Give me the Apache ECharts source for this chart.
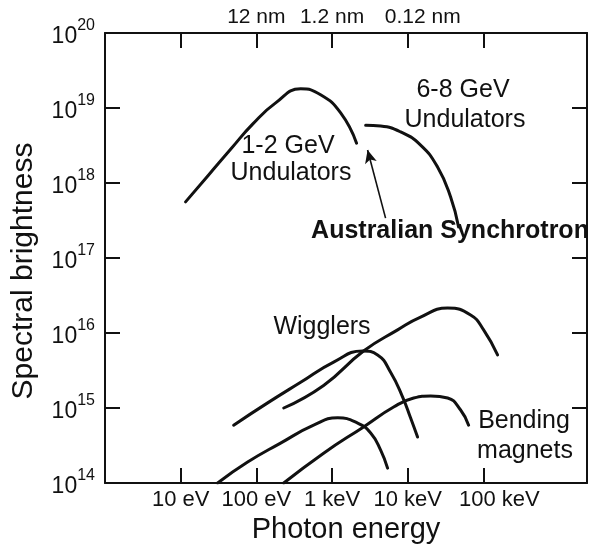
<!DOCTYPE html>
<html>
<head>
<meta charset="utf-8">
<script src="https://cdn.jsdelivr.net/npm/echarts@6/dist/echarts.min.js"></script>
<style>
  html, body { margin: 0; padding: 0; background: #fff; }
  #chart { width: 589px; height: 551px; }
</style>
</head>
<body>
<div id="chart"></div>
<script>
// Photon energy (eV) and spectral brightness for each source curve
const und12Energy = [11.6, 23.4, 47.2, 89.3, 180, 385, 706, 1300, 2110];
const und12Bright = [5.6e17, 1.28e18, 2.93e18, 6.1e18, 1.17e19, 1.8e19, 1.5e19, 8.6e18, 3.4e18];

const und68Energy = [2780, 4390, 8050, 14800, 24800, 36900, 47000];
const und68Bright = [5.9e18, 5.75e18, 4.8e18, 3.2e18, 1.63e18, 6.5e17, 2.6e17];

const wigHighEnergy = [230, 774, 2610, 7360, 14800, 33700, 67800, 100700, 154000];
const wigHighBright = [1.0e15, 2.0e15, 5.75e15, 1.1e16, 1.63e16, 2.15e16, 1.74e16, 1.1e16, 5.1e15];

const wigLowEnergy = [50.1, 141, 385, 1050, 2540, 4000, 5940, 8570, 10900, 13500];
const wigLowBright = [5.9e14, 1.17e15, 2.2e15, 4.1e15, 5.75e15, 5.1e15, 3.0e15, 1.4e15, 7.4e14, 4.1e14];

const bendLowEnergy = [30.8, 76.7, 209, 571, 1190, 2180, 3240, 4390, 5420];
const bendLowBright = [1.0e14, 1.9e14, 3.4e14, 5.9e14, 7.4e14, 6.3e14, 4.65e14, 2.75e14, 1.58e14];

const bendHighEnergy = [230, 774, 2610, 6520, 12000, 20100, 33700, 50000, 63800];
const bendHighBright = [1.0e14, 2.5e14, 5.6e14, 1.03e15, 1.36e15, 1.45e15, 1.36e15, 9.4e14, 5.9e14];

// Arrow pointing at the Australian Synchrotron gap: [energy, brightness] tail and head
const arrowTail = [5100, 3.4e17];
const arrowHead = [2950, 2.75e18];

// Axis ticks and their labels
const xTickValues = [10, 100, 1000, 10000, 100000];
const xTickLabels = ['10 eV', '100 eV', '1 keV', '10 keV', '100 keV'];
const topTickValues = [100, 1000, 10000];
const topTickLabels = ['12 nm', '1.2 nm', '0.12 nm'];
const yTickValues = [1e14, 1e15, 1e16, 1e17, 1e18, 1e19, 1e20];
const yExponents = ['14', '15', '16', '17', '18', '19', '20'];

const FONT = '"Liberation Sans", Arial, Helvetica, sans-serif';
const INK = '#111';

function pairs(xs, ys) { return xs.map((x, i) => [x, ys[i]]); }

function curve(name, xs, ys) {
  return {
    name: name,
    type: 'line',
    data: pairs(xs, ys),
    smooth: 0.5,
    symbol: 'none',
    clip: true,
    silent: true,
    lineStyle: { color: INK, width: 3, cap: 'round' },
    z: 3
  };
}

function tickIndex(values, v) {
  return values.findIndex(t => Math.abs(Math.log10(v) - Math.log10(t)) < 1e-6);
}

// The last label of each energy scale sits a little to the right of its tick
function shiftedLast(values, labels) {
  return function (v) {
    const i = tickIndex(values, v);
    if (i < 0) return '';
    return (i === values.length - 1 ? '{w|' : '{n|') + labels[i] + '}';
  };
}

const chart = echarts.init(document.getElementById('chart'), null, { renderer: 'canvas' });

const axisLine = { show: true, lineStyle: { color: INK, width: 2 } };
const tickStyle = { color: INK, width: 2 };

const option = {
  backgroundColor: '#fff',
  animation: false,
  grid: { left: 105, right: 2, top: 33, bottom: 68, containLabel: false },
  xAxis: [
    {
      type: 'log', logBase: 10, min: 1, max: 2.34e6, position: 'bottom',
      axisLine: axisLine,
      axisTick: { show: true, inside: true, length: 15, lineStyle: tickStyle, customValues: xTickValues },
      axisLabel: {
        show: true, margin: 6, color: INK, fontFamily: FONT,
        customValues: xTickValues,
        formatter: shiftedLast(xTickValues, xTickLabels),
        rich: {
          n: { fontSize: 22, color: INK, fontFamily: FONT },
          w: { fontSize: 22, color: INK, fontFamily: FONT, padding: [0, 0, 0, 32] }
        }
      },
      splitLine: { show: false },
      name: 'Photon energy', nameLocation: 'middle', nameGap: 28,
      nameTextStyle: { fontSize: 29, color: INK, fontFamily: FONT }
    },
    {
      type: 'log', logBase: 10, min: 1, max: 2.34e6, position: 'top',
      axisLine: axisLine,
      axisTick: { show: true, inside: true, length: 15, lineStyle: tickStyle, customValues: xTickValues },
      axisLabel: {
        show: true, margin: 5, color: INK, fontFamily: FONT,
        customValues: topTickValues,
        formatter: shiftedLast(topTickValues, topTickLabels),
        rich: {
          n: { fontSize: 21, color: INK, fontFamily: FONT },
          w: { fontSize: 21, color: INK, fontFamily: FONT, padding: [0, 0, 0, 30] }
        }
      },
      splitLine: { show: false }
    }
  ],
  yAxis: [
    {
      type: 'log', logBase: 10, min: 1e14, max: 1e20, position: 'left',
      axisLine: axisLine,
      axisTick: { show: true, inside: true, length: 15, lineStyle: tickStyle, customValues: yTickValues },
      axisLabel: {
        show: true, margin: 10, color: INK, fontFamily: FONT, customValues: yTickValues,
        formatter: function (v) {
          const i = tickIndex(yTickValues, v);
          return i < 0 ? '' : '{b|10}{s|' + yExponents[i] + '}';
        },
        rich: {
          b: { fontSize: 23, color: INK, fontFamily: FONT, verticalAlign: 'bottom', lineHeight: 30 },
          s: { fontSize: 16, color: INK, fontFamily: FONT, verticalAlign: 'top', lineHeight: 30 }
        }
      },
      splitLine: { show: false },
      name: 'Spectral brightness', nameLocation: 'middle', nameGap: 66, nameRotate: 90,
      nameTextStyle: { fontSize: 30, color: INK, fontFamily: FONT, padding: [0, 26, 0, 0] }
    },
    {
      type: 'log', logBase: 10, min: 1e14, max: 1e20, position: 'right',
      axisLine: axisLine,
      axisTick: { show: true, inside: true, length: 15, lineStyle: tickStyle, customValues: yTickValues },
      axisLabel: { show: false },
      splitLine: { show: false }
    }
  ],
  series: [
    curve('1-2 GeV Undulators', und12Energy, und12Bright),
    curve('6-8 GeV Undulators', und68Energy, und68Bright),
    curve('Wigglers (high)', wigHighEnergy, wigHighBright),
    curve('Wigglers (low)', wigLowEnergy, wigLowBright),
    curve('Bending magnets (low)', bendLowEnergy, bendLowBright),
    curve('Bending magnets (high)', bendHighEnergy, bendHighBright),
    {
      name: 'arrow', type: 'line', data: [], silent: true,
      markLine: {
        silent: true, animation: false,
        symbol: ['none', 'arrow'], symbolSize: [9, 13],
        label: { show: false },
        lineStyle: { color: INK, width: 1.6, type: 'solid' },
        data: [[{ coord: arrowTail }, { coord: arrowHead }]]
      }
    }
  ],
  graphic: [
    { type: 'text', x: 463, y: 90, style: { text: '6-8 GeV', font: '25px ' + FONT, fill: INK, align: 'center', verticalAlign: 'middle' } },
    { type: 'text', x: 465, y: 120, style: { text: 'Undulators', font: '25px ' + FONT, fill: INK, align: 'center', verticalAlign: 'middle' } },
    { type: 'text', x: 288, y: 146, style: { text: '1-2 GeV', font: '25px ' + FONT, fill: INK, align: 'center', verticalAlign: 'middle' } },
    { type: 'text', x: 291, y: 173, style: { text: 'Undulators', font: '25px ' + FONT, fill: INK, align: 'center', verticalAlign: 'middle' } },
    { type: 'text', x: 450, y: 231, style: { text: 'Australian Synchrotron', font: 'bold 25px ' + FONT, fill: INK, align: 'center', verticalAlign: 'middle' } },
    { type: 'text', x: 322, y: 327, style: { text: 'Wigglers', font: '25px ' + FONT, fill: INK, align: 'center', verticalAlign: 'middle' } },
    { type: 'text', x: 524, y: 421, style: { text: 'Bending', font: '25px ' + FONT, fill: INK, align: 'center', verticalAlign: 'middle' } },
    { type: 'text', x: 525, y: 451, style: { text: 'magnets', font: '25px ' + FONT, fill: INK, align: 'center', verticalAlign: 'middle' } }
  ]
};

chart.setOption(option);
</script>
</body>
</html>
